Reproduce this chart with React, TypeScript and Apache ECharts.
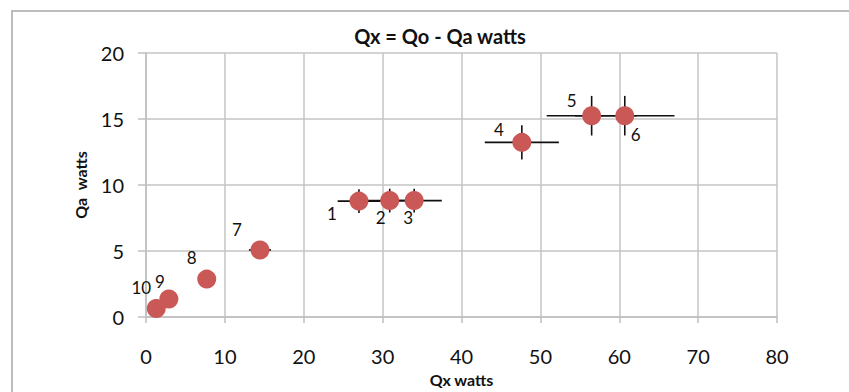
import React, { useEffect, useRef } from "react";
import * as echarts from "echarts";

const pointLabels = ["1", "2", "3", "4", "5", "6", "7", "8", "9", "10"];
const qxValues = [27.0, 30.9, 34.0, 47.65, 56.5, 60.7, 14.45, 7.7, 2.9, 1.3];
const qaValues = [8.78, 8.82, 8.82, 13.23, 15.25, 15.25, 5.08, 2.87, 1.36, 0.65];
const qxErrors = [2.7, 3.0, 3.5, 4.7, 5.7, 6.3, 1.4, 0.6, 0.5, 0.5];
const qaErrors = [0.9, 0.9, 0.9, 1.3, 1.5, 1.5, 0.5, 0.4, 0.4, 0.4];

// label offsets (px) relative to point centre
const labelOffsets: [number, number][] = [
  [-27, 12], [-9, 17], [-6, 17], [-23, -13], [-20, -15],
  [11, 19], [-23, -20], [-15, -22], [-9, -18], [-15, -21],
];

const FONT = "Lato, 'Open Sans', sans-serif";

export default function App() {
  const ref = useRef<HTMLDivElement>(null);
  useEffect(() => {
    if (!ref.current) return;
    const chart = echarts.init(ref.current, undefined, { renderer: "svg" });
    const errData = qxValues.map((x, i) => [x, qaValues[i], qxErrors[i], qaErrors[i]]);
    const ptData = qxValues.map((x, i) => ({
      value: [x, qaValues[i]],
      label: {
        show: true,
        formatter: pointLabels[i],
        position: "inside",
        offset: labelOffsets[i],
      },
    }));
    chart.setOption({
      animation: false,
      backgroundColor: "#ffffff",
      textStyle: { fontFamily: FONT },
      title: {
        text: "Qx = Qo - Qa watts",
        left: 435,
        top: 21,
        textAlign: "center",
        textStyle: { fontFamily: FONT, fontSize: 20, fontWeight: "bold", color: "#111" },
      },
      graphic: [
        {
          type: "rect",
          silent: true,
          z: -10,
          shape: { x: 12, y: 11, width: 900, height: 450 },
          style: { fill: "none", stroke: "#BDBDBD", lineWidth: 2 },
        },
      ],
      grid: { left: 146, right: 72, top: 53, bottom: 74, containLabel: false },
      xAxis: {
        type: "value",
        min: 0,
        max: 80,
        interval: 10,
        name: "Qx watts",
        nameLocation: "middle",
        nameGap: 54,
        nameTextStyle: { fontFamily: FONT, fontSize: 16, fontWeight: "bold", color: "#111" },
        axisLine: { show: true, lineStyle: { color: "#BFBFBF", width: 1.5 } },
        axisTick: { show: true, length: 6, lineStyle: { color: "#BFBFBF", width: 1.5 } },
        axisLabel: { margin: 29, fontFamily: FONT, fontSize: 20, color: "#111" },
        splitLine: { show: true, lineStyle: { color: "#C4C4C4", width: 1.5 } },
      },
      yAxis: {
        type: "value",
        min: 0,
        max: 20,
        interval: 5,
        name: "Qa  watts",
        nameLocation: "middle",
        nameRotate: 90,
        nameGap: 58,
        nameTextStyle: { fontFamily: FONT, fontSize: 16, fontWeight: "bold", color: "#111" },
        axisLine: { show: true, lineStyle: { color: "#BFBFBF", width: 1.5 } },
        axisTick: { show: true, length: 8, lineStyle: { color: "#BFBFBF", width: 1.5 } },
        axisLabel: { margin: 22, fontFamily: FONT, fontSize: 20, color: "#111" },
        splitLine: { show: true, lineStyle: { color: "#C4C4C4", width: 1.5 } },
      },
      series: [
        {
          type: "custom",
          z: 1,
          data: errData,
          encode: { x: 0, y: 1 },
          renderItem: (params: any, api: any) => {
            const x = api.value(0);
            const y = api.value(1);
            const ex = api.value(2);
            const ey = api.value(3);
            const l = api.coord([x - ex, y]);
            const r = api.coord([x + ex, y]);
            const t = api.coord([x, y + ey]);
            const b = api.coord([x, y - ey]);
            const style = { stroke: "#111", lineWidth: 1.6 };
            return {
              type: "group",
              children: [
                { type: "line", shape: { x1: l[0], y1: l[1], x2: r[0], y2: r[1] }, style },
                { type: "line", shape: { x1: t[0], y1: t[1], x2: b[0], y2: b[1] }, style },
              ],
            };
          },
        },
        {
          type: "scatter",
          z: 5,
          symbol: "circle",
          symbolSize: 19,
          itemStyle: { color: "#C95856", opacity: 1 },
          label: { fontFamily: FONT, fontSize: 17, color: "#111", opacity: 1 },
          data: ptData,
        },
      ],
    });
    return () => chart.dispose();
  }, []);
  return (
    <div
      ref={ref}
      style={{ position: "fixed", left: 0, top: 0, width: 849, height: 392, background: "#fff" }}
    />
  );
}
